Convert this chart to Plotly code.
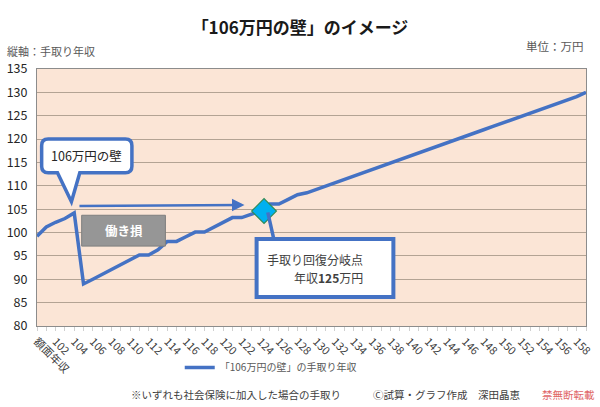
import plotly.graph_objects as go

# ---- data ----
gross_income = [100, 101, 102, 103, 104, 105, 106, 107, 108, 109,
                110, 111, 112, 113, 114, 115, 116, 117, 118, 119,
                120, 121, 122, 123, 124, 125, 126, 127, 128, 129,
                130, 131, 132, 133, 134, 135, 136, 137, 138, 139,
                140, 141, 142, 143, 144, 145, 146, 147, 148, 149,
                150, 151, 152, 153, 154, 155, 156, 157, 158, 159]
take_home = [99.2, 101.2, 102.2, 103.0, 104.2,
             89.0, 90.0, 91.0, 92.1, 93.1,
             94.1, 95.2, 95.2, 96.3, 98.1,
             98.1, 99.1, 100.1, 100.1, 101.1,
             102.1, 103.2, 103.2, 104.0, 104.6,
             106.1, 106.1, 107.1, 108.1, 108.5,
             109.2, 109.9, 110.6, 111.3, 112.0,
             112.8, 113.5, 114.2, 114.9, 115.6,
             116.3, 117.0, 117.7, 118.4, 119.1,
             119.8, 120.6, 121.3, 122.0, 122.7,
             123.4, 124.1, 124.8, 125.5, 126.2,
             127.0, 127.7, 128.4, 129.1, 130.0]
tick_vals = [100, 102, 104, 106, 108, 110, 112, 114, 116, 118, 120, 122, 124, 126, 128,
             130, 132, 134, 136, 138, 140, 142, 144, 146, 148, 150, 152, 154, 156, 158]
tick_text = ["額面年収", "102", "104", "106", "108", "110", "112", "114", "116", "118", "120",
             "122", "124", "126", "128", "130", "132", "134", "136", "138", "140", "142",
             "144", "146", "148", "150", "152", "154", "156", "158"]
breakeven_x = [124.4]
breakeven_y = [104.6]

BLUE = "#4472C4"
FONT = "Noto Sans CJK JP"

fig = go.Figure()
fig.add_trace(go.Scatter(
    x=gross_income, y=take_home, mode="lines",
    name="「106万円の壁」の手取り年収",
    line=dict(color=BLUE, width=3.5),
))
fig.add_trace(go.Scatter(
    x=breakeven_x, y=breakeven_y, mode="markers", showlegend=False,
    marker=dict(symbol="diamond", size=19, color="#00B0F0",
                line=dict(color="#2E8B57", width=1.2)),
))


def callout_path(x0, x1, y0, y1, rx, ry, xa, xb, tx, ty):
    return (f"M {x0+rx},{y1} L {x1-rx},{y1} Q {x1},{y1} {x1},{y1-ry} "
            f"L {x1},{y0+ry} Q {x1},{y0} {x1-rx},{y0} L {xb},{y0} L {tx},{ty} L {xa},{y0} "
            f"L {x0+rx},{y0} Q {x0},{y0} {x0},{y0+ry} L {x0},{y1-ry} Q {x0},{y1} {x0+rx},{y1} Z")


shapes = [
    # callout "106万円の壁"
    dict(type="path", xref="x", yref="y", layer="above",
         path=callout_path(100.5, 110.2, 112.8, 120.0, 0.7, 1.4, 102.2, 104.6, 103.7, 106.6),
         fillcolor="white", line=dict(color=BLUE, width=3.5)),
    # gray box 働き損
    dict(type="rect", xref="x", yref="y", layer="above",
         x0=104.8, x1=113.8, y0=97.1, y1=103.7,
         fillcolor="#969696", line=dict(color="#7F7F7F", width=1)),
    # pointer line from lower callout to diamond
    dict(type="line", xref="x", yref="y", layer="above",
         x0=125.45, y0=98.6, x1=124.8, y1=104.3,
         line=dict(color=BLUE, width=3.5)),
    # lower callout box
    dict(type="rect", xref="x", yref="y", layer="above",
         x0=123.6, x1=138.3, y0=86.2, y1=98.6,
         fillcolor="white", line=dict(color=BLUE, width=4)),
]

annotations = [
    dict(x=122.3, y=105.9, ax=104.4, ay=105.7, xref="x", yref="y", axref="x", ayref="y",
         text="", showarrow=True, arrowhead=2, arrowsize=1, arrowwidth=2.5, arrowcolor=BLUE),
    dict(x=105.35, y=116.4, xref="x", yref="y", text="106万円の壁", showarrow=False,
         font=dict(family=FONT, size=12.5, color="#262626")),
    dict(x=109.3, y=100.4, xref="x", yref="y", text="<b>働き損</b>", showarrow=False,
         font=dict(family=FONT, size=12.5, color="white")),
    dict(x=124.5, y=94.3, xref="x", yref="y", text="手取り回復分岐点", showarrow=False,
         xanchor="left", font=dict(family=FONT, size=12, color="#404040")),
    dict(x=127.4, y=90.3, xref="x", yref="y", text="年収<b>125</b>万円", showarrow=False,
         xanchor="left", font=dict(family=FONT, size=12, color="#404040")),
    # top notes
    dict(x=-0.058, y=1.07, xref="paper", yref="paper", text="縦軸：手取り年収",
         showarrow=False, xanchor="left", yanchor="middle",
         font=dict(family=FONT, size=11, color="#595959")),
    dict(x=1.0, y=1.088, xref="paper", yref="paper", text="単位：万円",
         showarrow=False, xanchor="right", yanchor="middle",
         font=dict(family=FONT, size=11.5, color="#595959")),
    # footer
    dict(x=0.168, y=-0.266, xref="paper", yref="paper",
         text="※いずれも社会保険に加入した場合の手取り",
         showarrow=False, xanchor="left", yanchor="middle",
         font=dict(family=FONT, size=10.5, color="#404040")),
    dict(x=0.608, y=-0.266, xref="paper", yref="paper",
         text="Ⓒ試算・グラフ作成　深田晶恵",
         showarrow=False, xanchor="left", yanchor="middle",
         font=dict(family=FONT, size=10.5, color="#404040")),
    dict(x=0.916, y=-0.266, xref="paper", yref="paper",
         text="禁無断転載",
         showarrow=False, xanchor="left", yanchor="middle",
         font=dict(family=FONT, size=10.5, color="#E06666")),
]

fig.update_layout(
    width=600, height=407,
    margin=dict(l=37, r=14, t=69, b=81),
    paper_bgcolor="white", plot_bgcolor="#FBE5D6",
    font=dict(family=FONT, color="#404040"),
    title=dict(text="<b>「106万円の壁」のイメージ</b>", x=0.5, xanchor="center",
               y=0.932, yanchor="middle", yref="container",
               font=dict(family=FONT, size=17, color="#1A1A1A")),
    showlegend=True,
    legend=dict(orientation="h", x=0.26, xanchor="left", y=-0.161, yanchor="middle",
                font=dict(family=FONT, size=10, color="#595959"),
                bgcolor="rgba(0,0,0,0)", itemwidth=30),
    shapes=shapes, annotations=annotations,
)
fig.update_xaxes(
    range=[100, 159], tickmode="array", tickvals=tick_vals, ticktext=tick_text,
    tickangle=45, showgrid=False, zeroline=False, automargin=False,
    showline=True, mirror=True, linecolor="#8C8C8C", linewidth=1,
    ticks="outside", ticklen=4, tickcolor="#D0D0D0",
    minor=dict(dtick=1, tick0=100, ticks="outside", ticklen=4, tickcolor="#D0D0D0"),
    tickfont=dict(family=FONT, size=11, color="#404040"),
)
fig.update_yaxes(
    range=[80, 135], dtick=5, tick0=80, showgrid=True, gridcolor="#B3A394", gridwidth=1,
    zeroline=False, showline=True, mirror=True, linecolor="#8C8C8C", linewidth=1,
    ticks="", ticklabelstandoff=6, automargin=False,
    tickfont=dict(family=FONT, size=12.5, color="#262626"),
)

fig.write_html("out.html")
